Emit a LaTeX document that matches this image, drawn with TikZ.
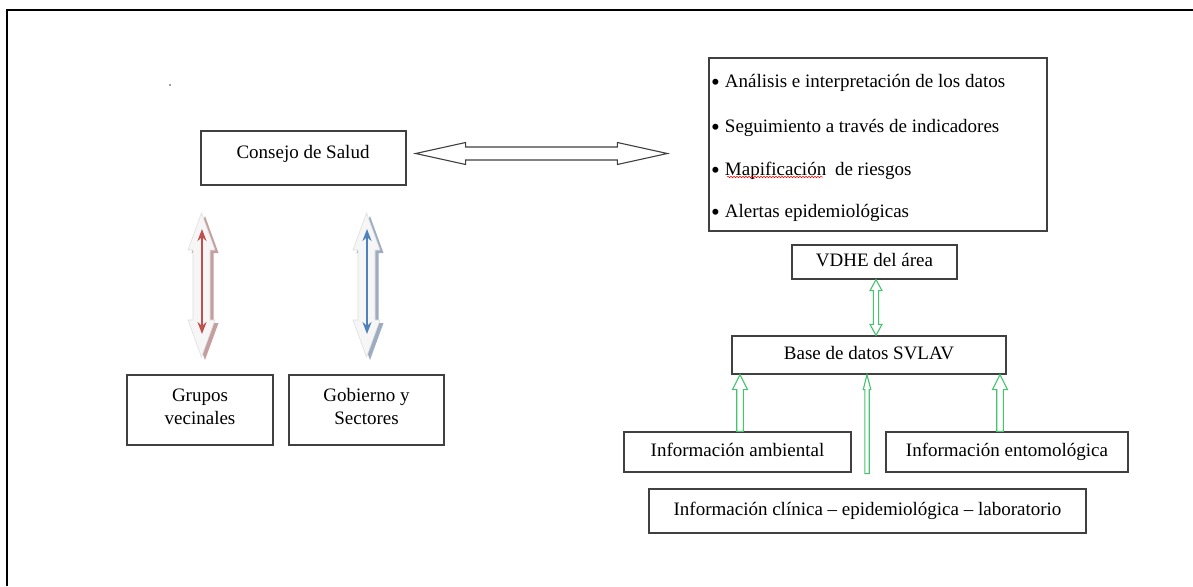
\documentclass[tikz,border=0pt]{standalone}
\usepackage{fontspec}
\setmainfont{Liberation Serif}
\usetikzlibrary{calc,arrows.meta,decorations.pathmorphing}
\definecolor{boxline}{HTML}{404040}
\definecolor{gline}{RGB}{70,195,110}
\definecolor{redA}{HTML}{C0504D}
\definecolor{blueA}{HTML}{4F81BD}
\definecolor{redS}{RGB}{178,128,128}
\definecolor{blueS}{RGB}{125,145,172}
\newcommand\bul{{\fontsize{25}{25}\selectfont\raisebox{-3pt}{\textbullet}}\hspace{5pt}}
\tikzset{
 box/.style={draw=boxline, line width=1.3pt, rectangle, inner sep=0pt},
 txt/.style={font=\fontsize{19}{23}\selectfont, text height=13pt, text depth=4pt, inner sep=0pt},
 garrow/.style={draw=gline, line width=1.1pt, fill=white, line join=miter},
 harrow/.style={draw=boxline, line width=1.1pt, fill=white, line join=miter},
 fat/.style={fill=gray!7, draw=gray!25, line width=0.6pt},
 inner/.style={line width=2.2pt, {Stealth[length=12pt,width=9pt]}-{Stealth[length=12pt,width=9pt]}},
}
% vertical double block arrow: style, top, bottom, head length, head half width, shaft half width
\newcommand\vdbl[6]{\path[#1] let \p1=#2, \p2=#3 in
  (\x1,\y1) -- (\x1+#5pt,\y1-#4pt) -- (\x1+#6pt,\y1-#4pt) -- (\x1+#6pt,\y2+#4pt) -- (\x1+#5pt,\y2+#4pt) -- (\x1,\y2)
  -- (\x1-#5pt,\y2+#4pt) -- (\x1-#6pt,\y2+#4pt) -- (\x1-#6pt,\y1-#4pt) -- (\x1-#5pt,\y1-#4pt) -- cycle;}
% single up block arrow
\newcommand\uparr[6]{\path[#1] let \p1=#2, \p2=#3 in
  (\x1,\y1) -- (\x1+#5pt,\y1-#4pt) -- (\x1+#6pt,\y1-#4pt) -- (\x1+#6pt,\y2) -- (\x1-#6pt,\y2) -- (\x1-#6pt,\y1-#4pt) -- (\x1-#5pt,\y1-#4pt) -- cycle;}
% horizontal double block arrow
\newcommand\hdbl[6]{\path[#1] let \p1=#2, \p2=#3 in
  (\x1,\y1) -- (\x1+#4pt,\y1+#5pt) -- (\x1+#4pt,\y1+#6pt) -- (\x2-#4pt,\y1+#6pt) -- (\x2-#4pt,\y1+#5pt) -- (\x2,\y1)
  -- (\x2-#4pt,\y1-#5pt) -- (\x2-#4pt,\y1-#6pt) -- (\x1+#4pt,\y1-#6pt) -- (\x1+#4pt,\y1-#5pt) -- cycle;}
\begin{document}
\begin{tikzpicture}[x=1pt,y=-1pt]
\useasboundingbox (0,0) rectangle (1193,586);
\fill[white] (0,0) rectangle (1193,586);
% outer frame (top and left visible)
\draw[line width=2pt] (7,586) -- (7,10) -- (1193,10);
\fill[boxline] (170,85) circle (0.9);

% boxes
\node[box, minimum width=205, minimum height=54] (consejo) at (303.5,158) {};
\node[txt] (consejoT) at (303,153.5) {Consejo de Salud};

\node[box, minimum width=338, minimum height=173] (bullets) at (878,144.5) {};
\node[txt, anchor=west] (b1) at (711,83) {\bul Análisis e interpretación de los datos};
\node[txt, anchor=west] (b2) at (711,128) {\bul Seguimiento a través de indicadores};
\node[txt, anchor=west] (b3) at (711,171) {\bul Mapificación\hspace{4pt} de riesgos};
\node[txt, anchor=west] (b4) at (711,213) {\bul Alertas epidemiológicas};
\coordinate (ulL) at (727,177);
\coordinate (ulR) at (823,177);
\draw[red, line width=0.5pt, decorate, decoration={snake, amplitude=0.8pt, segment length=3pt}] (ulL) -- (ulR);

\node[box, txt, minimum width=165, minimum height=34] (vdhe) at (874.5,262) {VDHE del área};
\node[box, txt, minimum width=274, minimum height=38] (base) at (869,355) {Base de datos SVLAV};
\node[box, txt, minimum width=227, minimum height=40] (amb) at (737.5,452) {Información ambiental};
\node[box, txt, minimum width=242, minimum height=40] (ent) at (1007,452) {Información entomológica};
\node[box, txt, minimum width=437, minimum height=44] (clin) at (867.5,511) {Información clínica – epidemiológica – laboratorio};

\node[box, minimum width=146, minimum height=70] (grupos) at (200,410) {};
\node[txt] (g1) at (200,397) {Grupos};
\node[txt] (g2) at (200,420) {vecinales};
\node[box, minimum width=155, minimum height=70] (gob) at (366.5,410) {};
\node[txt] (s1) at (366.5,397) {Gobierno y};
\node[txt] (s2) at (366.5,420) {Sectores};

% horizontal double arrow
\coordinate (hL) at ($(consejo.east)+(9,-4.5)$);
\coordinate (hR) at ($(bullets.west |- hL)+(-41,0)$);
\hdbl{harrow}{(hL)}{(hR)}{50}{11}{6.5}

% green arrows
\coordinate (v1t) at ($(vdhe.south)+(1.5,0)$);
\coordinate (v1b) at ($(base.north)+(6.5,0)$);
\vdbl{garrow}{(v1t)}{(v1t |- v1b)}{11}{6}{2.6}

\coordinate (a1t) at ($(base.south -| amb.north)+(2.5,0)$);
\coordinate (a1b) at ($(amb.north)+(2.5,0)$);
\uparr{garrow}{(a1t)}{(a1b)}{15}{7.5}{3.3}
\coordinate (a2t) at ($(base.south)+(-2,0)$);
\coordinate (a2b) at ($(base.south |- amb.south)+(-2,1)$);
\uparr{garrow}{(a2t)}{(a2b)}{15}{3.8}{2.2}
\coordinate (a3t) at ($(base.south -| ent.north)+(-7,0)$);
\coordinate (a3b) at ($(ent.north)+(-7,0)$);
\uparr{garrow}{(a3t)}{(a3b)}{15}{7.5}{3.3}

% fat red arrow
\coordinate (rT) at (201.5,213);
\coordinate (rB) at (201.5,357);
\vdbl{fill=redS, opacity=0.75}{($(rT)+(3.5,3)$)}{($(rB)+(3.5,3)$)}{37}{13.5}{8.5}
\vdbl{fat}{(rT)}{(rB)}{37}{13.5}{8.5}
\coordinate (riT) at (202,229);
\coordinate (riB) at (202,334);
\draw[inner, redA] (riT) -- (riB);

% fat blue arrow
\coordinate (bT) at (366.5,213);
\coordinate (bB) at (366.5,357);
\vdbl{fill=blueS, opacity=0.75}{($(bT)+(3.5,3)$)}{($(bB)+(3.5,3)$)}{37}{13.5}{8.5}
\vdbl{fat}{(bT)}{(bB)}{37}{13.5}{8.5}
\coordinate (biT) at (367,229);
\coordinate (biB) at (367,334);
\draw[inner, blueA] (biT) -- (biB);
\end{tikzpicture}
\end{document}
